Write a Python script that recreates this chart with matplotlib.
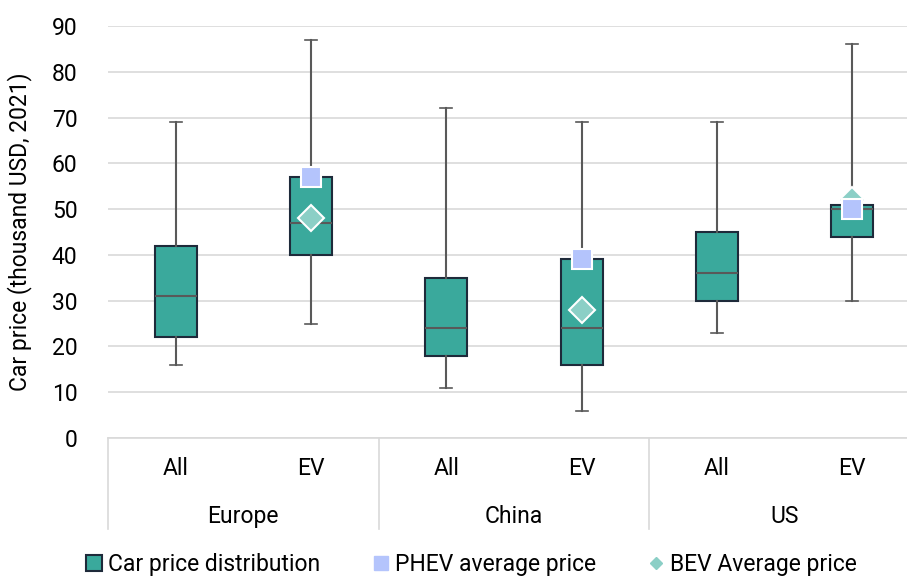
import matplotlib.pyplot as plt
from matplotlib.lines import Line2D
from matplotlib.patches import Patch

plt.rcParams['font.family'] = ['Roboto', 'DejaVu Sans']

regions = ['Europe', 'China', 'US']
segments = ['All', 'EV', 'All', 'EV', 'All', 'EV']
whis_lo = [16, 25, 11, 6, 23, 30]
q1 = [22, 40, 18, 16, 30, 44]
med = [31, 47, 24, 24, 36, 50]
q3 = [42, 57, 35, 39, 45, 51]
whis_hi = [69, 87, 72, 69, 69, 86]
# averages only for the EV boxes (index 1, 3, 5)
ev_idx = [1, 3, 5]
phev_avg = [57, 39, 50]
bev_avg = [48, 28, 52]

teal = '#3aa99c'
edge = '#1e2a3a'
grey = '#595959'
phev_col = '#b4c4fc'
bev_col = '#8bcfc6'
fs = 16.5

fig = plt.figure(figsize=(9.07, 5.76), dpi=100)
ax = fig.add_axes([108 / 907, 1 - 438 / 576, 812 / 907, 412 / 576])

stats = []
for i in range(len(segments)):
    stats.append(dict(med=med[i], q1=q1[i], q3=q3[i],
                      whislo=whis_lo[i], whishi=whis_hi[i], fliers=[]))

ax.bxp(stats, positions=range(len(segments)), widths=0.31, patch_artist=True,
       showfliers=False, capwidths=0.09,
       boxprops=dict(facecolor=teal, edgecolor=edge, linewidth=1.5),
       medianprops=dict(color=grey, linewidth=1.5),
       whiskerprops=dict(color=grey, linewidth=1.5),
       capprops=dict(color=grey, linewidth=1.2))

ax.plot(ev_idx, bev_avg, linestyle='none', marker='D', markersize=13,
        markerfacecolor=bev_col, markeredgecolor='white', markeredgewidth=1.5, zorder=4)
ax.plot(ev_idx, phev_avg, linestyle='none', marker='s', markersize=15,
        markerfacecolor=phev_col, markeredgecolor='white', markeredgewidth=1.5, zorder=5)

ax.set_xlim(-0.5, 5.5)
ax.set_ylim(0, 90)
ax.set_yticks(range(0, 91, 10))
ax.yaxis.grid(True, color='#d9d9d9', linewidth=1.2)
ax.set_axisbelow(True)
for s in ['top', 'right', 'left']:
    ax.spines[s].set_visible(False)
ax.spines['bottom'].set_color('#d9d9d9')
ax.spines['bottom'].set_linewidth(1.2)
ax.tick_params(axis='y', length=0, labelsize=fs, pad=22)
ax.tick_params(axis='x', length=0, labelbottom=False)
ax.set_ylabel('Car price (thousand USD, 2021)', fontsize=fs, labelpad=14)

tr = ax.get_xaxis_transform()
for i, lab in enumerate(segments):
    ax.text(i, -0.075, lab, transform=tr, ha='center', va='center', fontsize=fs)
for g, reg in enumerate(regions):
    ax.text(2 * g + 0.5, -0.19, reg, transform=tr, ha='center', va='center', fontsize=fs)
for xs in [-0.5, 1.5, 3.5, 5.5]:
    ax.plot([xs, xs], [0, -0.22], transform=tr, color='#d9d9d9', linewidth=1.2, clip_on=False)

handles = [
    Patch(facecolor=teal, edgecolor=edge, linewidth=1.5, label='Car price distribution'),
    Line2D([], [], linestyle='none', marker='s', markersize=10, color=phev_col,
           label='PHEV average price'),
    Line2D([], [], linestyle='none', marker='D', markersize=6, color=bev_col,
           label='BEV Average price'),
]
fig.legend(handles=handles, loc='center', bbox_to_anchor=(0.52, 0.02), ncol=3,
           frameon=False, fontsize=fs, handlelength=0.7, handletextpad=0.25,
           columnspacing=2.3, handleheight=0.75)

fig.savefig('out.png', dpi=100)
